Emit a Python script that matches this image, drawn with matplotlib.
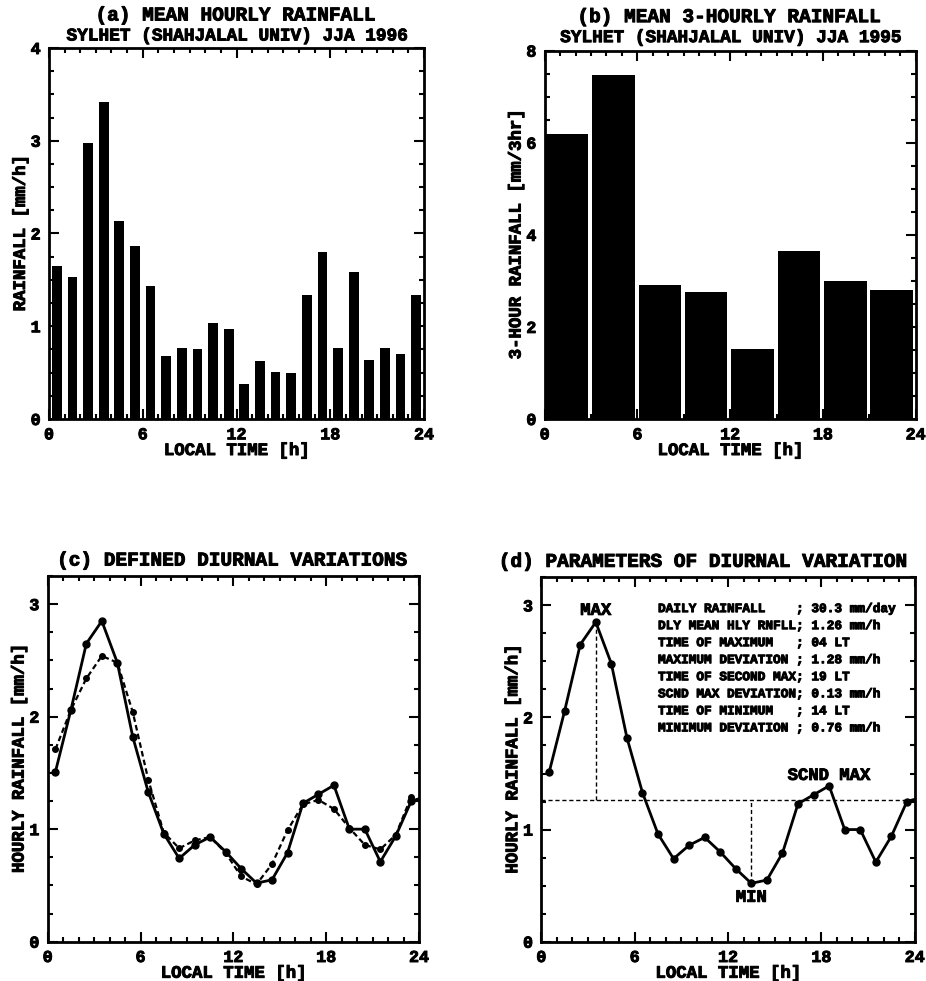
import matplotlib
matplotlib.use("Agg")
import matplotlib.pyplot as plt
import matplotlib.patheffects as pe
from matplotlib.text import Text
from matplotlib.ticker import MultipleLocator

plt.rcParams["font.family"] = ["Liberation Mono", "DejaVu Sans Mono"]
plt.rcParams["font.weight"] = "bold"

# hourly mean rainfall (mm/h), bars centred on the half hour
hours = [h + 0.5 for h in range(24)]
hourly_rain = [1.65, 1.53, 2.98, 3.42, 2.13, 1.86, 1.43, 0.68, 0.77, 0.75, 1.03, 0.97,
               0.38, 0.62, 0.51, 0.50, 1.34, 1.80, 0.77, 1.58, 0.64, 0.77, 0.70, 1.34]

# 3-hourly rainfall (mm/3hr)
hours3 = [1.45, 4.45, 7.45, 10.45, 13.45, 16.45, 19.45, 22.45]
rain3 = [6.19, 7.46, 2.90, 2.76, 1.52, 3.65, 3.00, 2.81]

# defined diurnal variation (solid) and smoothed one (dashed)
smooth_x = hours + [24.0]
smooth_y = [1.51, 2.06, 2.65, 2.85, 2.48, 1.82, 1.33, 0.96, 0.74, 0.86, 0.93, 0.80,
            0.65, 0.52, 0.55, 0.79, 1.23, 1.31, 1.39, 1.00, 1.00, 0.71, 0.94, 1.25, 1.27]
dashed_y = [1.71, 2.06, 2.34, 2.54, 2.48, 2.04, 1.44, 0.97, 0.83, 0.90, 0.93, 0.79,
            0.58, 0.51, 0.69, 0.99, 1.22, 1.26, 1.18, 1.01, 0.86, 0.82, 0.95, 1.29]

# parameters of the diurnal variation
mean_rain = 1.26
max_time, max_val = 3.5, 2.85
min_time, min_val = 13.5, 0.52
scnd_time, scnd_val = 18.5, 1.39
param_names = ["DAILY RAINFALL", "DLY MEAN HLY RNFLL", "TIME OF MAXIMUM",
               "MAXIMUM DEVIATION", "TIME OF SECOND MAX", "SCND MAX DEVIATION",
               "TIME OF MINIMUM", "MINIMUM DEVIATION"]
param_values = ["30.3 mm/day", "1.26 mm/h", "04 LT", "1.28 mm/h",
                "19 LT", "0.13 mm/h", "14 LT", "0.76 mm/h"]

fig = plt.figure(figsize=(9.26, 9.81), dpi=100)
ax_a = fig.add_axes([0.0529, 0.5729, 0.405, 0.3782])
ax_b = fig.add_axes([0.5882, 0.5729, 0.4006, 0.3755])
ax_c = fig.add_axes([0.0515, 0.0401, 0.4010, 0.3727])
ax_d = fig.add_axes([0.5846, 0.0401, 0.4032, 0.3714])


def style(ax, ymax, ymajor, yminor):
    ax.set_xlim(0, 24)
    ax.set_ylim(0, ymax)
    ax.xaxis.set_major_locator(MultipleLocator(6))
    ax.xaxis.set_minor_locator(MultipleLocator(1))
    ax.yaxis.set_major_locator(MultipleLocator(ymajor))
    ax.yaxis.set_minor_locator(MultipleLocator(yminor))
    ax.tick_params(which="both", direction="in", top=True, right=True, width=1.5)
    ax.tick_params(which="major", length=7, labelsize=12, pad=6)
    ax.tick_params(which="minor", length=3.5)
    for lab in ax.get_xticklabels() + ax.get_yticklabels():
        lab.set_fontweight("bold")
    for sp in ax.spines.values():
        sp.set_linewidth(2)
    ax.set_xlabel("LOCAL TIME [h]", fontsize=12.5, fontweight="bold", labelpad=0.5)


def title(ax, text, dy, dx=0, size=14):
    ax.annotate(text, xy=(0.5, 1), xycoords="axes fraction", xytext=(dx, dy * 0.72),
                textcoords="offset points", ha="center", va="center",
                fontsize=size, fontweight="bold")


# (a)
ax_a.bar(hours, hourly_rain, width=0.62, color="black")
style(ax_a, 4, 1, 0.25)
ax_a.set_ylabel("RAINFALL [mm/h]", fontsize=12.5, fontweight="bold", labelpad=2)
title(ax_a, "(a) MEAN HOURLY RAINFALL", 32)
title(ax_a, "SYLHET (SHAHJALAL UNIV) JJA 1996", 12, size=12.8)

# (b)
ax_b.bar(hours3, rain3, width=2.75, color="black")
style(ax_b, 8, 2, 0.5)
ax_b.set_ylabel("3-HOUR RAINFALL [mm/3hr]", fontsize=12.5, fontweight="bold", labelpad=2)
title(ax_b, "(b) MEAN 3-HOURLY RAINFALL", 33)
title(ax_b, "SYLHET (SHAHJALAL UNIV) JJA 1995", 13, size=12.8)

# (c)
ax_c.plot(smooth_x[:-1], smooth_y[:-1], color="black", lw=2, marker="o", ms=5)
ax_c.plot(smooth_x[-2:], smooth_y[-2:], color="black", lw=2)
ax_c.plot(hours, dashed_y, color="black", lw=1.6, ls=(0, (2.5, 1.5)), marker="o", ms=4)
style(ax_c, 3.25, 1, 0.25)
ax_c.set_ylabel("HOURLY RAINFALL [mm/h]", fontsize=12.5, fontweight="bold", labelpad=2)
title(ax_c, "(c) DEFINED DIURNAL VARIATIONS", 15)

# (d)
ax_d.plot(smooth_x[:-1], smooth_y[:-1], color="black", lw=2, marker="o", ms=5)
ax_d.plot(smooth_x[-2:], smooth_y[-2:], color="black", lw=2)
ax_d.axhline(mean_rain, color="black", lw=1, ls=(0, (3, 2)))
ax_d.plot([max_time, max_time], [mean_rain, max_val], color="black", lw=1, ls=(0, (3, 2)))
ax_d.plot([min_time, min_time], [min_val, mean_rain], color="black", lw=1, ls=(0, (3, 2)))
ax_d.annotate("MAX", (max_time, max_val), xytext=(0, 8.5), textcoords="offset points",
              ha="center", va="center", fontsize=12.4, fontweight="bold")
ax_d.annotate("MIN", (min_time, min_val), xytext=(0, -10), textcoords="offset points",
              ha="center", va="center", fontsize=12.4, fontweight="bold")
ax_d.annotate("SCND MAX", (scnd_time, scnd_val), xytext=(0, 7.5), textcoords="offset points",
              ha="center", va="center", fontsize=12.4, fontweight="bold")
info = "\n".join(f"{n:<18s}; {v}" for n, v in zip(param_names, param_values))
ax_d.text(7.5, 3.02, info, ha="left", va="top", fontsize=9.2, fontweight="bold",
          linespacing=1.56)
style(ax_d, 3.25, 1, 0.25)
ax_d.set_ylabel("HOURLY RAINFALL [mm/h]", fontsize=12.5, fontweight="bold", labelpad=2)
title(ax_d, "(d) PARAMETERS OF DIURNAL VARIATION", 15, dx=-17)

# thicken the strokes of all lettering a little
for t in fig.findobj(Text):
    t.set_path_effects([pe.withStroke(linewidth=0.7, foreground="black")])

fig.savefig("out.png", dpi=100)
